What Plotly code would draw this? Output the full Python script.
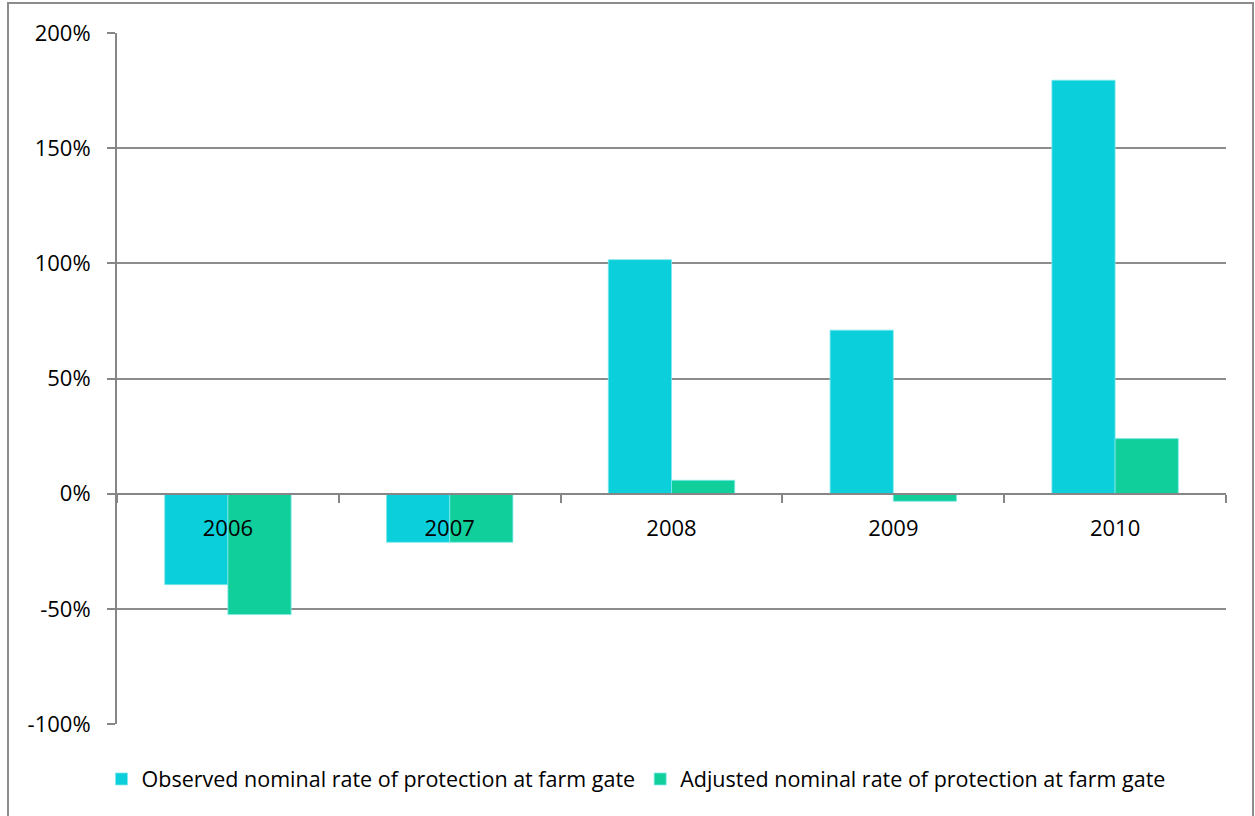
import plotly.graph_objects as go

years = ["2006", "2007", "2008", "2009", "2010"]
observed = [-39.5, -21.1, 101.6, 71.0, 179.5]
adjusted = [-52.5, -21.1, 5.8, -3.3, 23.9]
series_names = ["Observed nominal rate of protection at farm gate",
                "Adjusted nominal rate of protection at farm gate"]
colors = ["#0BCFDA", "#11CF9B"]

fig = go.Figure()
for name, vals, col in zip(series_names, [observed, adjusted], colors):
    fig.add_trace(go.Bar(x=years, y=vals, name=name,
                         marker=dict(color=col, line=dict(color="#7fe8ee", width=0.8))))

FONT = "'Open Sans', 'Noto Sans', sans-serif"
fig.update_layout(
    width=1255, height=816,
    margin=dict(l=117, r=29, t=33, b=92),
    paper_bgcolor="white", plot_bgcolor="white",
    barmode="group", bargap=0.43, bargroupgap=0,
    font=dict(family=FONT, size=22, color="black"),
    showlegend=True,
    legend=dict(orientation="h", x=0.468, xanchor="center", y=-0.0796, yanchor="middle",
                font=dict(size=21.5), itemwidth=30, traceorder="normal",
                bgcolor="rgba(0,0,0,0)"),
    xaxis=dict(type="category", anchor="free", position=1/3,
               showline=True, linecolor="#868686", linewidth=2,
               ticks="outside", tickson="boundaries", ticklen=8, tickcolor="#868686",
               tickwidth=2, showgrid=False, ticklabelstandoff=15,
               tickfont=dict(size=22, color="black")),
    yaxis=dict(range=[-100, 200], tickvals=[-100, -50, 0, 50, 100, 150, 200],
               ticktext=["-100%", "-50%", "0%", "50%", "100%", "150%", "200%"],
               showline=True, linecolor="#868686", linewidth=2,
               ticks="outside", ticklen=8, tickcolor="#868686", tickwidth=2,
               showgrid=True, gridcolor="#8c8c8c", gridwidth=2,
               zeroline=False, ticklabelstandoff=12,
               tickfont=dict(size=22, color="black")),
    shapes=[dict(type="rect", xref="paper", yref="paper",
                 x0=(8 - 117) / 1109, x1=(1253 - 117) / 1109,
                 y0=(724 - 830) / 691, y1=(724 - 3) / 691,
                 line=dict(color="#8c8c8c", width=2), fillcolor="rgba(0,0,0,0)",
                 layer="below")],
)

fig.write_html("out.html")
